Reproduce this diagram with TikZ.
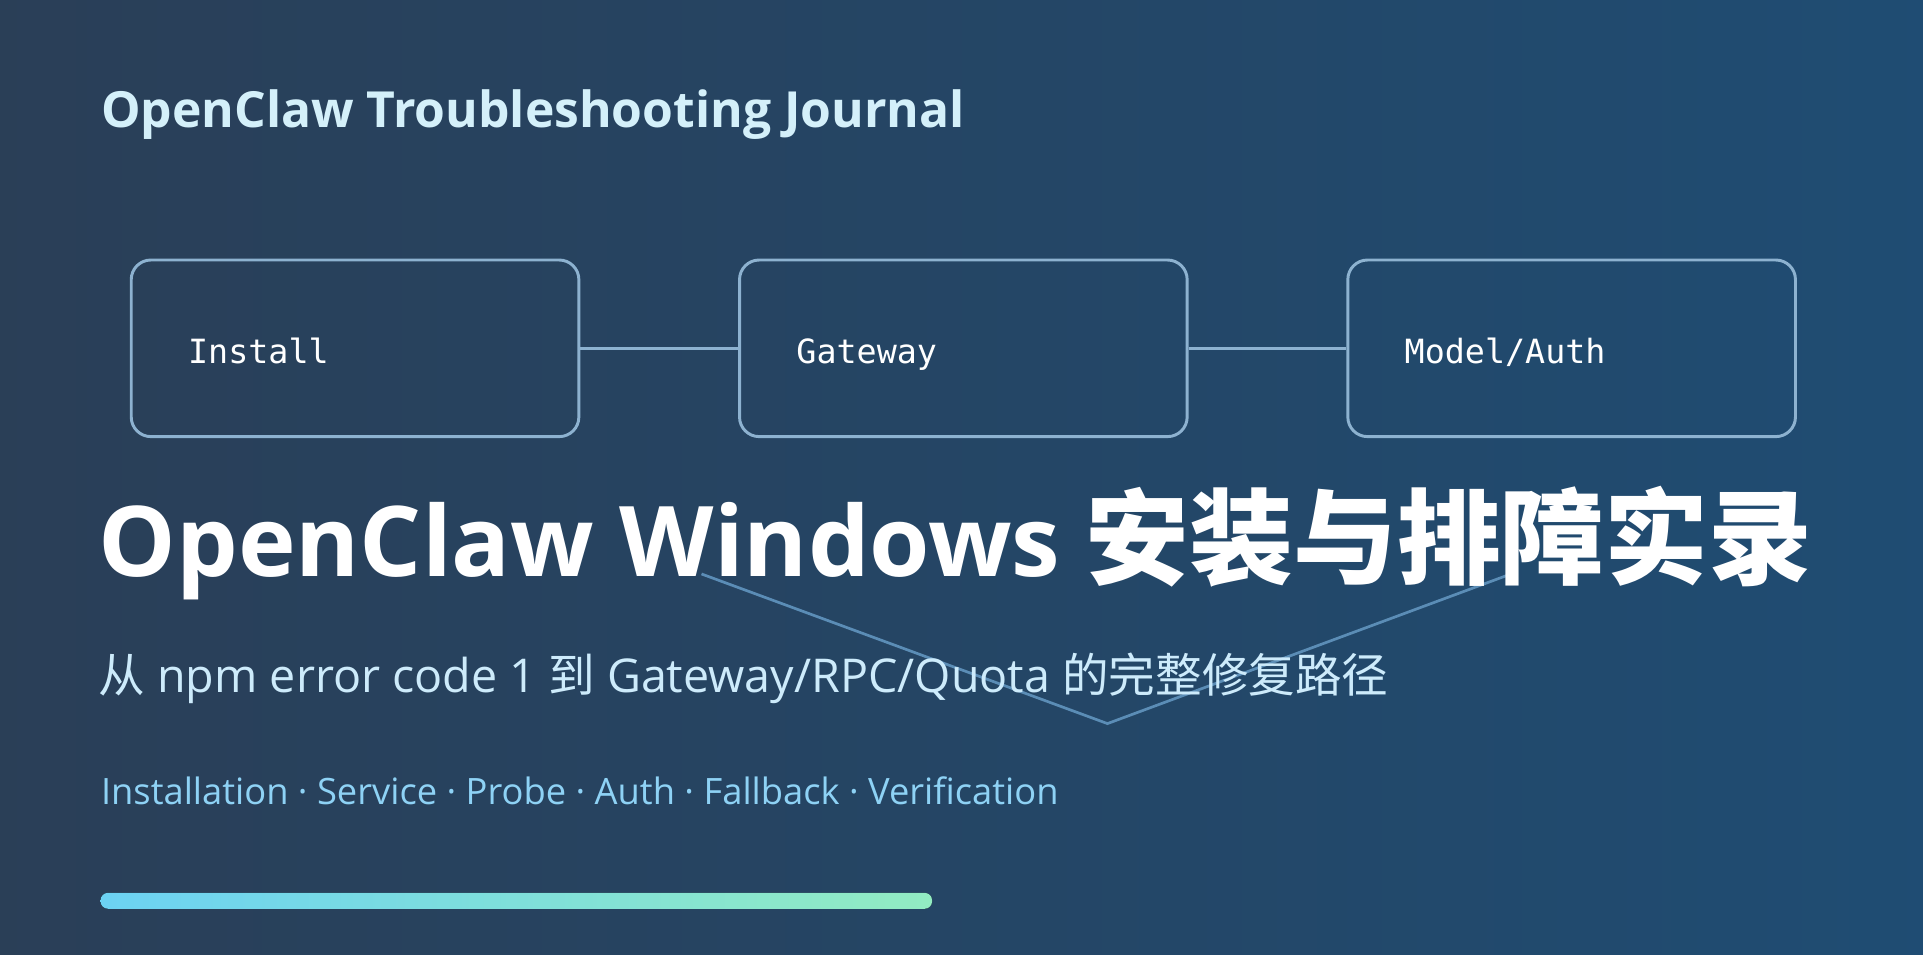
\documentclass[tikz,border=0pt]{standalone}
\usepackage{fontspec}
\setmainfont{Open Sans}
\newfontfamily\cjk{Noto Sans CJK SC}
\newfontfamily\cjkb{Noto Sans CJK SC Bold}
\newfontfamily\mono{DejaVu Sans Mono}
\definecolor{bgA}{HTML}{2C3C52}
\definecolor{bgB}{HTML}{1D4F78}
\definecolor{boxline}{HTML}{8DB2D0}
\definecolor{headc}{HTML}{D4F0FA}
\definecolor{subc}{HTML}{CDEBFB}
\definecolor{tagc}{HTML}{8ED2F5}
\definecolor{vline}{HTML}{5B8DB6}
\definecolor{barA}{HTML}{6CD2F3}
\definecolor{barB}{HTML}{92ECC2}
\begin{document}
\begin{tikzpicture}[x=0.5pt,y=-0.5pt,
  stage/.style={draw=boxline,line width=1.2pt,rounded corners=8pt,minimum width=182.5pt,minimum height=72pt,inner sep=0pt},
  stagetext/.style={anchor=base west,inner sep=0pt,text=white,font=\mono\fontsize{13.6}{15}\selectfont},
  link/.style={draw=boxline,line width=1.1pt}]
\useasboundingbox (0,0) rectangle (1568,778);
\shade[shading=axis,shading angle=-60,left color=bgA,right color=bgB] (-300,-300) rectangle (1868,1078);
% faint V
\coordinate (v1) at (572,468);
\coordinate (v2) at (903,590);
\coordinate (v3) at (1232,468);
\draw[vline,line width=1.1pt] (v1) -- (v2) -- (v3);
% header
\node[anchor=base west,inner sep=0pt,text=headc,font=\fontsize{20.3}{24}\selectfont\bfseries] (head) at (82,104) {OpenClaw Troubleshooting Journal};
% boxes
\node[stage] (b1) at (289.5,284) {};
\node[stage] (b2) at (785.5,284) {};
\node[stage] (b3) at (1281.5,284) {};
\node[stagetext] (t1) at (153,296) {Install};
\node[stagetext] (t2) at (649,296) {Gateway};
\node[stagetext] (t3) at (1145,296) {Model/Auth};
\draw[link] (b1.east) -- (b2.west);
\draw[link] (b2.east) -- (b3.west);
% title
\node[anchor=base west,inner sep=0pt,text=white,font=\fontsize{39.8}{44}\selectfont\bfseries] (title) at (80,470) {OpenClaw Windows {\cjkb\fontsize{42.3}{44}\selectfont 安装与排障实录}};
\node[anchor=base west,inner sep=0pt,text=subc,font=\fontsize{19}{22}\selectfont] (sub) at (80,565) {{\cjk 从} npm error code 1 {\cjk 到} Gateway/RPC/Quota {\cjk 的完整修复路径}};
\node[anchor=base west,inner sep=0pt,text=tagc,font=\fontsize{14.8}{17}\selectfont] (tags) at (82,656) {Installation · Service · Probe · Auth · Fallback · Verification};
\fill[left color=barA,right color=barB,rounded corners=3pt] (82,728) rectangle (760,741);
\end{tikzpicture}
\end{document}
